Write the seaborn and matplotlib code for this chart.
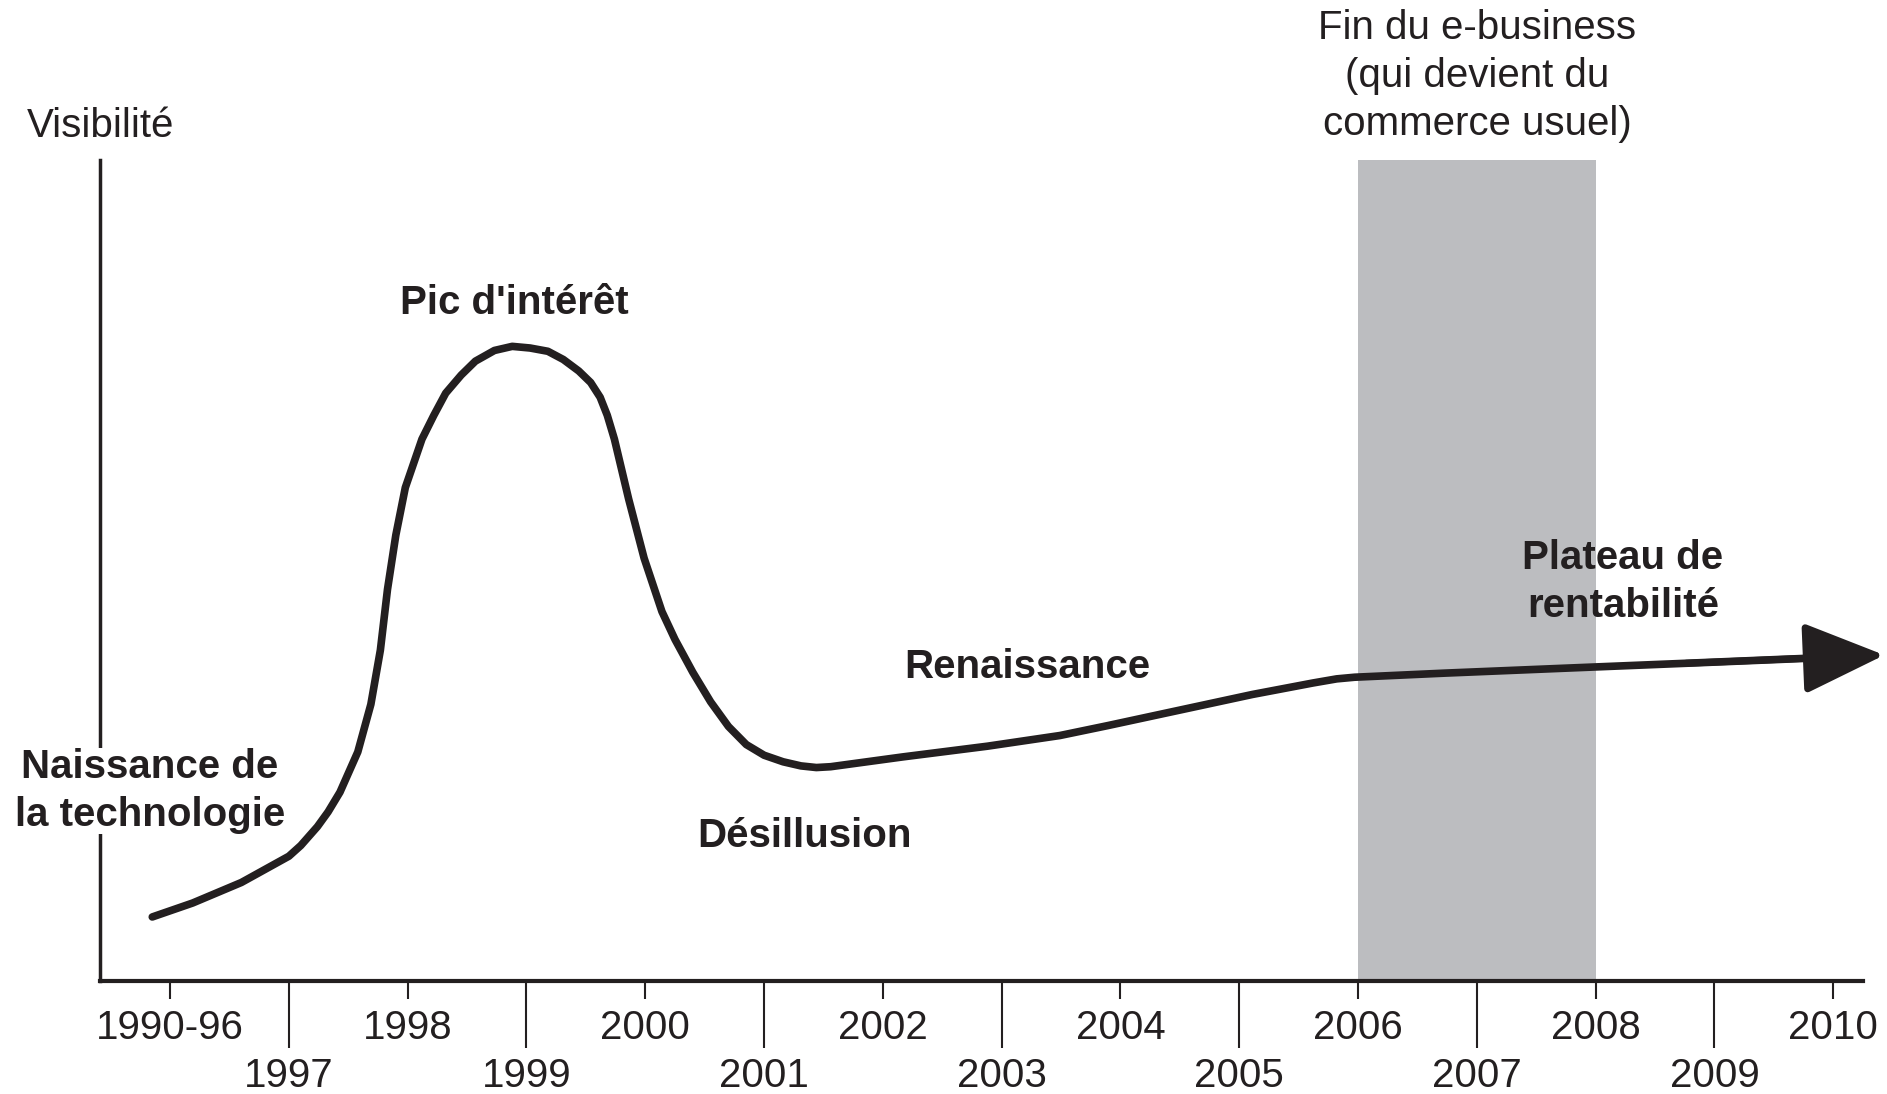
import numpy as np
import pandas as pd
import seaborn as sns
import matplotlib.pyplot as plt

# tick labels along the time axis (one slot per year, first slot covers 1990-96)
periodes = ['1990-96', '1997', '1998', '1999', '2000', '2001', '2002', '2003',
            '2004', '2005', '2006', '2007', '2008', '2009', '2010']

# hype curve: position on the time axis / visibility
pos = [-0.15, 0.19, 0.60, 1.00, 1.10, 1.24, 1.33, 1.43, 1.58, 1.69, 1.77, 1.83,
       1.90, 1.98, 2.12, 2.22, 2.32, 2.45, 2.57, 2.73, 2.88, 3.03, 3.18, 3.31,
       3.44, 3.54, 3.62, 3.68, 3.74, 3.86, 3.99, 4.14, 4.25, 4.40, 4.55,
       4.70, 4.85, 5.00, 5.16, 5.31, 5.44, 5.56, 6.17, 6.88, 7.49, 7.89, 8.50,
       9.11, 9.62, 9.82, 9.97, 10.73, 11.74, 12.76, 13.77, 14.43]
visibilite = [7.8, 9.5, 12.0, 15.2, 16.5, 18.8, 20.6, 23.0, 27.9, 33.7, 40.3, 47.7,
              54.3, 60.1, 66.0, 68.9, 71.6, 73.8, 75.5, 76.8, 77.3, 77.1, 76.7, 75.7,
              74.3, 72.9, 71.1, 68.9, 66.0, 58.7, 51.5, 45.0, 41.6, 37.6, 34.0,
              31.0, 28.8, 27.5, 26.7, 26.2, 26.0, 26.1, 27.3, 28.6, 29.9, 31.1, 33.0,
              34.9, 36.3, 36.8, 37.0, 37.5, 38.1, 38.7, 39.3, 39.7]

# shaded period: end of e-business
zone_debut, zone_fin = 10, 12

df = pd.DataFrame({'pos': pos, 'visibilite': visibilite})

sns.set_style('white')
plt.rcParams['font.family'] = ['Liberation Sans', 'DejaVu Sans']
encre = '#231f20'

W, H = 1887, 1094
fig = plt.figure(figsize=(W / 100, H / 100), dpi=100)
ax = fig.add_axes([100 / W, (H - 981) / H, (1863 - 100) / W, (981 - 160) / H])

ax.axvspan(zone_debut, zone_fin, color='#bcbdc0', lw=0, zorder=0)

sns.lineplot(data=df.iloc[:-1], x='pos', y='visibilite', ax=ax, color=encre,
             lw=5.5, estimator=None, sort=False, zorder=3,
             solid_joinstyle='round', solid_capstyle='round')
ax.annotate('', xy=(pos[-1], visibilite[-1]), xytext=(pos[-3], visibilite[-3]),
            arrowprops=dict(arrowstyle='-|>,head_length=2.5,head_width=1.1',
                            mutation_scale=20, color=encre, lw=5,
                            shrinkA=0, shrinkB=0),
            annotation_clip=False, zorder=3)

ax.set_xlim(-0.59, 14.25)
ax.set_ylim(0, 100)
ax.set_xlabel('')
ax.set_ylabel('')
ax.set_yticks([])

ax.set_xticks(range(0, 15, 2))
ax.set_xticklabels(periodes[0::2])
ax.set_xticks(range(1, 15, 2), minor=True)
ax.set_xticklabels(periodes[1::2], minor=True)
ax.tick_params(axis='x', which='major', length=13, width=1.5, color=encre,
               labelsize=29, labelcolor=encre, pad=7, bottom=True)
ax.tick_params(axis='x', which='minor', length=48, width=1.5, color=encre,
               labelsize=29, labelcolor=encre, pad=7, bottom=True)

for s in ['top', 'right']:
    ax.spines[s].set_visible(False)
ax.spines['bottom'].set_linewidth(3)
ax.spines['left'].set_linewidth(2.5)
ax.spines['bottom'].set_color(encre)
ax.spines['left'].set_color(encre)
ax.spines['bottom'].set_zorder(4)


def txt(x, y, s, bold=False, **kw):
    fig.text(x / W, 1 - y / H, s, ha='center', va='center', fontsize=29,
             color=encre, fontweight='bold' if bold else 'normal',
             linespacing=1.33, **kw)


txt(101, 126, 'Visibilité')
txt(1477, 76, 'Fin du e-business\n(qui devient du\ncommerce usuel)')
txt(514, 303, "Pic d'intérêt", bold=True)
txt(150, 791, 'Naissance de\nla technologie', bold=True,
    bbox=dict(facecolor='white', edgecolor='none', pad=0), zorder=5)
txt(804, 836, 'Désillusion', bold=True)
txt(1027, 667, 'Renaissance', bold=True)
txt(1623, 582, 'Plateau de\nrentabilité', bold=True)

fig.savefig('out.png', dpi=100)
